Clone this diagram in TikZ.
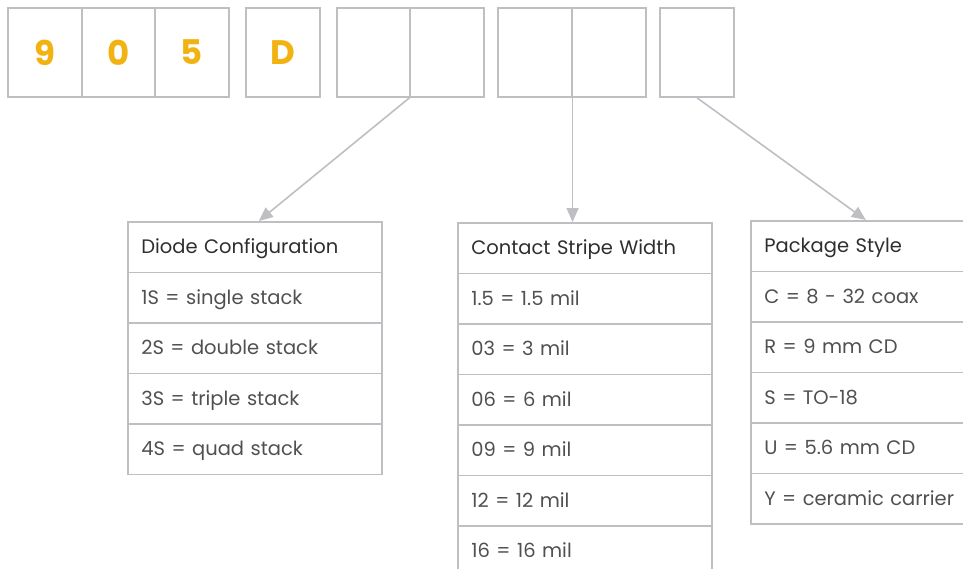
\documentclass[tikz,border=0pt]{standalone}
\usepackage{fontspec}
\setmainfont{Poppins}
\usetikzlibrary{arrows.meta}
\definecolor{linegray}{HTML}{BFBFC3}
\definecolor{codeorange}{HTML}{F2B312}
\definecolor{headgray}{HTML}{2E2E2E}
\definecolor{rowgray}{HTML}{505050}
\tikzset{>={Triangle[length=14pt,width=12pt]}}
\tikzset{
  digit/.style={draw=linegray, line width=1.6pt, minimum width=73.5pt, minimum height=89pt,
    inner sep=0pt, font=\fontsize{34}{34}\selectfont\bfseries, text=codeorange},
  headcell/.style={draw=linegray, line width=1.6pt, minimum height=50.5pt, anchor=north west,
    text width=227pt, inner xsep=13.5pt, inner ysep=0pt, text height=16pt, text depth=2.5pt,
    align=left, font=\fontsize{19.5}{22}\selectfont, text=headgray},
  rowcell/.style={headcell, text=rowgray},
  pointer/.style={->, draw=linegray, fill=linegray, line width=1.6pt}
}

\begin{document}
\begin{tikzpicture}[x=1pt,y=-1pt]
\useasboundingbox (0,0) rectangle (963,568);
\clip (0,0) rectangle (963,568);
% code boxes
\node[digit] (c1) at (45,52.5) {9};
\node[digit] (c2) at (118.5,52.5) {0};
\node[digit] (c3) at (192,52.5) {5};
\node[digit] (c4) at (283,52.5) {D};
\node[digit] (c5) at (373.5,52.5) {};
\node[digit] (c6) at (447,52.5) {};
\node[digit] (c7) at (535,52.5) {};
\node[digit] (c8) at (609,52.5) {};
\node[digit] (c9) at (697,52.5) {};
% diode configuration
\node[headcell] (dhead) at (127,221) {Diode Configuration};
\foreach \txt [count=\i] in {1S = single stack, 2S = double stack, 3S = triple stack, 4S = quad stack}
\node[rowcell] (drow\i) at (127,{221+\i*50.5}) {\txt};
% contact stripe width
\node[headcell] (shead) at (457,222) {Contact Stripe Width};
\foreach \txt [count=\i] in {1.5 = 1.5 mil, 03 = 3 mil, 06 = 6 mil, 09 = 9 mil, 12 = 12 mil, 16 = 16 mil}
\node[rowcell] (srow\i) at (457,{222+\i*50.5}) {\txt};
% package style
\node[headcell] (phead) at (750,220) {Package Style};
\foreach \txt [count=\i] in {C = 8 - 32 coax, R = 9 mm CD, S = TO-18, U = 5.6 mm CD, Y = ceramic carrier}
\node[rowcell] (prow\i) at (750,{220+\i*50.5}) {\txt};
% pointers
\draw[pointer] (c6.south west) -- ([xshift=4pt]dhead.north);
\draw[pointer] (c7.south east) -- (c7.south east |- shead.north);
\draw[pointer] (c9.south) -- ([xshift=-12pt]phead.north);
\end{tikzpicture}
\end{document}
